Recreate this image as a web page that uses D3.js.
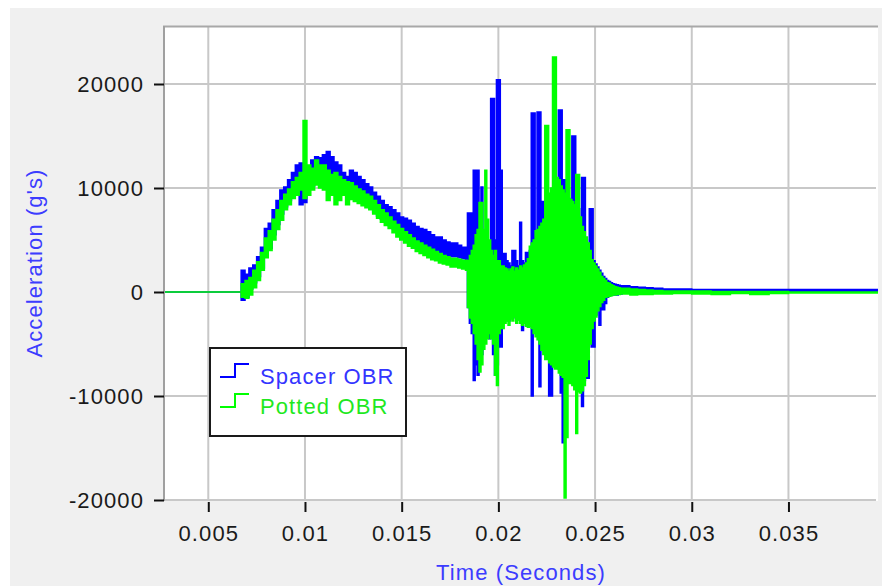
<!DOCTYPE html>
<html>
<head>
<meta charset="utf-8">
<script src="https://cdn.jsdelivr.net/npm/d3@7/dist/d3.min.js"></script>
<style>
  body { margin: 0; background: #fff; }
  svg { display: block; font-family: "Liberation Sans", Arial, sans-serif; }
</style>
</head>
<body>
<svg width="888" height="586"></svg>
<script>
// Sample times (seconds): slow part, burst, then the tail
const sampleTime = [0.00271,
  0.0067, 0.0069, 0.0071, 0.0073, 0.0075, 0.0077, 0.0079, 0.0081, 0.0083, 0.0085,
  0.0087, 0.0089, 0.0091, 0.0093, 0.0095, 0.0097, 0.0099, 0.0101, 0.0103, 0.0105,
  0.0107, 0.0109, 0.0111, 0.0113, 0.0115, 0.0117, 0.0119, 0.0121, 0.0123, 0.0125,
  0.0127, 0.0129, 0.0131, 0.0133, 0.0135, 0.0137, 0.0139, 0.0141, 0.0143, 0.0145,
  0.0147, 0.0149, 0.0151, 0.0153, 0.0155, 0.0157, 0.0159, 0.0161, 0.0163, 0.0165,
  0.0167, 0.0169, 0.0171, 0.0173, 0.0175, 0.0177, 0.0179, 0.0181, 0.0183,
  0.0184, 0.0185, 0.0186, 0.0187, 0.0188, 0.0189, 0.0190, 0.0191, 0.0192, 0.0193,
  0.0194, 0.0195, 0.0196, 0.0197, 0.0198, 0.0199, 0.0200, 0.0201, 0.0202, 0.0203,
  0.0204, 0.0205, 0.0206, 0.0207, 0.0208, 0.0209, 0.0210, 0.0211, 0.0212, 0.0213,
  0.0214, 0.0215, 0.0216, 0.0217, 0.0218, 0.0219, 0.0220, 0.0221, 0.0222, 0.0223,
  0.0224, 0.0225, 0.0226, 0.0227, 0.0228, 0.0229, 0.0230, 0.0231, 0.0232, 0.0233,
  0.0234, 0.0235, 0.0236, 0.0237, 0.0238, 0.0239, 0.0240, 0.0241, 0.0242, 0.0243,
  0.0244, 0.0245, 0.0246, 0.0247, 0.0248, 0.0249, 0.0250, 0.0251, 0.0252, 0.0253,
  0.0254, 0.0255, 0.0256, 0.0257, 0.0258, 0.0259, 0.0260, 0.0261, 0.0262, 0.0263,
  0.0264,
  0.0268, 0.0272, 0.0276, 0.0280, 0.0285, 0.0290, 0.0300, 0.0310, 0.0320, 0.0330,
  0.0340, 0.0350, 0.0360, 0.0370, 0.0380, 0.0390, 0.03963];

// Spacer OBR: upper and lower envelope (g's)
const spacerHigh = [0,
  2100, 1700, 2300, 2600, 3400, 4300, 6100, 6600, 7900, 8800,
  9800, 10100, 10800, 11500, 12200, 12400, 12000, 11900, 12700, 13000,
  12900, 13200, 13500, 13000, 12500, 12200, 11500, 11100, 11700, 11500,
  11100, 10800, 10400, 10100, 9600, 9200, 8800, 8400, 8200, 7900,
  7600, 7200, 7100, 6900, 6600, 6300, 6100, 6000, 5800, 5500,
  5300, 5300, 5000, 4800, 4700, 4700, 4500, 4300, 4300,
  7600, 7600, 7600, 11700, 11700, 11700, 6000, 10100, 5000, 4000,
  3000, 4000, 18600, 18600, 5000, 20400, 20400, 11700, 3700, 3700,
  3000, 2800, 2500, 4000, 4000, 3000, 2500, 6700, 3000, 2800,
  3800, 3800, 4000, 17200, 17200, 5500, 17300, 17300, 8700, 8700,
  6500, 8000, 9000, 9500, 10000, 9500, 10000, 17500, 17500, 10800,
  10800, 9000, 9000, 8500, 15000, 15000, 8000, 8000, 7000, 11000,
  11000, 5000, 4500, 8000, 8000, 3000, 2700, 2400, 2100, 1800,
  1500, 1300, 1100, 1000, 900, 800, 750, 700, 650, 600,
  600,
  500, 450, 400, 350, 300, 300, 250, 250, 250, 250,
  250, 250, 250, 250, 250, 250, 250];

const spacerLow = [0,
  -800, -500, 300, 900, 1500, 2300, 3500, 4200, 5500, 6500,
  7500, 8200, 8800, 9500, 9800, 8400, 8600, 10000, 10200, 10500,
  10400, 10500, 10300, 10200, 10000, 9800, 9600, 9500, 9400, 9200,
  9000, 8700, 8400, 8100, 7700, 7300, 7000, 6700, 6400, 6100,
  5800, 5500, 5200, 5000, 4800, 4600, 4400, 4200, 4000, 3900,
  3800, 3700, 3600, 3500, 3400, 3400, 3300, 3200, 3000,
  -1500, -3000, -4000, -8500, -7000, -8000, -5000, -6000, -4000, -3000,
  -3500, -4500, -3000, -6000, -8000, -7000, -5300, -5300, -3000, -2500,
  -2300, -2800, -2200, -2500, -2000, -2700, -2400, -2700, -3700, -2700,
  -3000, -3100, -3000, -10000, -3500, -3800, -4200, -9100, -5000, -5500,
  -6000, -6000, -10000, -10000, -6800, -7000, -7000, -7400, -9700, -14500,
  -9000, -8500, -8300, -8400, -8500, -9000, -9000, -9200, -9300, -11000,
  -8500, -8300, -8300, -4500, -5300, -5300, -2200, -1700, -3200, -1700,
  -1700, -1100, -500, -400, -300, -300, -300, -300, -200, -200,
  -100,
  -100, -50, 0, 50, 50, 50, 50, 50, 50, 50,
  50, 50, 50, 50, 50, 50, 50];

// Potted OBR: upper and lower envelope (g's)
const pottedHigh = [0,
  800, 1100, 1400, 2100, 2900, 3800, 5200, 5900, 7000, 7900,
  8800, 9400, 9900, 10600, 11000, 11500, 16500, 12200, 11900, 12700,
  12200, 12200, 11700, 11300, 11500, 11100, 10800, 10600, 10500, 10200,
  9900, 9700, 9400, 9200, 8800, 8400, 7900, 7600, 7200, 6800,
  6500, 6100, 5800, 5500, 5200, 4900, 4700, 4500, 4300, 4100,
  3900, 3700, 3500, 3400, 3250, 3250, 3150, 3050, 3050,
  3000, 3500, 4000, 4500, 5500, 6000, 8600, 8600, 6000, 11700,
  7000, 5000, 4000, 3500, 4000, 3000, 3000, 2500, 2500, 2300,
  2200, 2000, 2200, 2400, 2000, 2300, 2100, 2500, 2300, 2600,
  2800, 3200, 4400, 4700, 5000, 5900, 6000, 6300, 6600, 7000,
  16000, 16000, 9500, 10000, 22600, 22600, 11000, 10800, 10200, 9800,
  9500, 15600, 15600, 8900, 8700, 8400, 11300, 11300, 7200, 6300,
  5800, 5300, 4700, 4000, 3100, 2800, 2500, 2200, 1900, 1500,
  1300, 1100, 900, 830, 700, 600, 500, 450, 400, 350,
  350,
  300, 250, 200, 150, 100, 100, 100, 50, 50, 50,
  50, 0, 0, 0, 0, 0, 0];

const pottedLow = [0,
  -500, -600, -300, 400, 1100, 2100, 3300, 4000, 5000, 6000,
  6900, 7900, 8400, 9000, 9300, 9800, 9000, 9300, 9800, 10300,
  10000, 9800, 8800, 9300, 8400, 8800, 9300, 8400, 8900, 8700,
  8500, 8300, 8100, 7900, 7500, 7100, 6700, 6400, 6100, 5700,
  5300, 5000, 4700, 4400, 4200, 3900, 3700, 3500, 3300, 3100,
  3000, 2800, 2700, 2600, 2400, 2400, 2300, 2200, 2100,
  -1500, -2500, -3000, -4000, -5000, -6500, -7700, -7000, -5500, -5000,
  -4500, -4000, -4500, -5000, -8000, -9000, -4000, -3500, -3500, -3000,
  -2800, -3200, -2600, -2800, -2400, -3000, -2700, -3000, -3200, -3000,
  -3300, -3400, -3300, -3500, -4000, -4300, -4600, -5000, -5600, -6000,
  -6500, -6500, -6800, -7000, -7200, -7400, -7400, -7800, -8000, -8200,
  -19800, -14000, -8800, -8800, -9000, -9400, -13600, -9600, -9700, -9500,
  -9000, -8100, -6500, -5000, -3500, -2800, -2400, -1800, -1400, -1000,
  -800, -500, -450, -400, -350, -300, -300, -250, -250, -200,
  -200,
  -300, -250, -250, -200, -200, -150, -200, -250, -150, -250,
  -150, -100, -100, -100, -100, -100, -100];

const seriesNames = ["Spacer OBR", "Potted OBR"];
const xTicks = [0.005, 0.01, 0.015, 0.02, 0.025, 0.03, 0.035];
const yTicks = [-20000, -10000, 0, 10000, 20000];

const lineColors = ["#0000ff", "#00ff00"];
const legendTextColors = ["#3434ff", "#1fe81f"];
const titleColor = "#3c3cff";

let svg = d3.select("svg");

// Grey panel behind the chart
svg.append("rect")
    .attr("x", 10).attr("y", 8)
    .attr("width", 872).attr("height", 578)
    .attr("fill", "#f0f0f0");

let x = d3.scaleLinear().domain([0.00271, 0.03963]).range([164, 878]);
let y = d3.scaleLinear().domain([-20000, 25577]).range([500, 26]);

// Plot area
svg.append("rect")
    .attr("x", 164).attr("y", 26)
    .attr("width", 714).attr("height", 475)
    .attr("fill", "#fff");

svg.append("clipPath").attr("id", "plot-clip")
    .append("rect")
    .attr("x", 164).attr("y", 26)
    .attr("width", 714).attr("height", 475);

// Grid
svg.append("g")
    .selectAll("line")
    .data(xTicks)
    .join("line")
    .attr("x1", d => x(d)).attr("x2", d => x(d))
    .attr("y1", 26).attr("y2", 501)
    .attr("stroke", "#c8c8c8")
    .attr("stroke-width", 2);

svg.append("g")
    .selectAll("line")
    .data(yTicks)
    .join("line")
    .attr("x1", 164).attr("x2", 876)
    .attr("y1", d => y(d)).attr("y2", d => y(d))
    .attr("stroke", "#c8c8c8")
    .attr("stroke-width", 2);

// The two traces, drawn as stepped envelopes (spacer behind, potted in front)
let series = [
    { hi: spacerHigh, lo: spacerLow },
    { hi: pottedHigh, lo: pottedLow }
];

let area = d3.area()
    .curve(d3.curveStepAfter)
    .x(d => x(d.t))
    .y0(d => y(d.lo))
    .y1(d => y(d.hi));

svg.append("g")
    .attr("clip-path", "url(#plot-clip)")
    .selectAll("path")
    .data(series)
    .join("path")
    .attr("d", s => area(sampleTime.map((t, i) => ({ t: t, hi: s.hi[i], lo: s.lo[i] }))))
    .attr("fill", (s, i) => lineColors[i])
    .attr("stroke", (s, i) => lineColors[i])
    .attr("stroke-width", 1.5)
    .attr("stroke-linejoin", "miter");

// Frame on the top and left
svg.append("line")
    .attr("x1", 163).attr("x2", 878)
    .attr("y1", 26.5).attr("y2", 26.5)
    .attr("stroke", "#a8a8a8").attr("stroke-width", 2);
svg.append("line")
    .attr("x1", 164).attr("x2", 164)
    .attr("y1", 26).attr("y2", 501)
    .attr("stroke", "#a0a0a0").attr("stroke-width", 2);

// Axes
let yAxis = d3.axisLeft(y)
    .tickValues(yTicks)
    .tickSize(10)
    .tickFormat(d => String(d));

let gy = svg.append("g")
    .attr("transform", "translate(164,0)")
    .call(yAxis);
gy.select(".domain").remove();
gy.selectAll(".tick line").attr("stroke", "#111").attr("stroke-width", 2);
gy.selectAll(".tick text")
    .attr("x", -20)
    .attr("dy", "0.36em")
    .attr("fill", "#1a1a1a")
    .style("font-size", "22px")
    .style("letter-spacing", "1.1px")
    .style("font-family", "'Liberation Sans', Arial, sans-serif");

let xAxis = d3.axisBottom(x)
    .tickValues(xTicks)
    .tickSize(10)
    .tickFormat(d => String(d));

let gx = svg.append("g")
    .attr("transform", "translate(0,502)")
    .call(xAxis);
gx.select(".domain").remove();
gx.selectAll(".tick line").attr("stroke", "#111").attr("stroke-width", 2);
gx.selectAll(".tick text")
    .attr("y", 39)
    .attr("dy", 0)
    .attr("fill", "#1a1a1a")
    .style("font-size", "22px")
    .style("letter-spacing", "1.1px")
    .style("font-family", "'Liberation Sans', Arial, sans-serif");

// Axis titles
svg.append("text")
    .attr("x", 521).attr("y", 580)
    .attr("text-anchor", "middle")
    .attr("fill", titleColor)
    .style("font-size", "22px")
    .style("letter-spacing", "1.1px")
    .text("Time (Seconds)");

svg.append("text")
    .attr("transform", "translate(42,263) rotate(-90)")
    .attr("text-anchor", "middle")
    .attr("fill", titleColor)
    .style("font-size", "22px")
    .style("letter-spacing", "1.1px")
    .text("Acceleration (g's)");

// Legend
let legend = svg.append("g").attr("transform", "translate(210,348)");

legend.append("rect")
    .attr("width", 196).attr("height", 88)
    .attr("fill", "#fff")
    .attr("stroke", "#1a1a1a")
    .attr("stroke-width", 2);

let entries = legend.selectAll("g.entry")
    .data(seriesNames)
    .join("g")
    .attr("class", "entry")
    .attr("transform", (d, i) => "translate(0," + (i * 30) + ")");

entries.append("path")
    .attr("d", "M10,29H25V16H39")
    .attr("fill", "none")
    .attr("stroke", (d, i) => lineColors[i])
    .attr("stroke-width", 2);

entries.append("text")
    .attr("x", 50).attr("y", 36)
    .attr("fill", (d, i) => legendTextColors[i])
    .style("font-size", "22px")
    .style("letter-spacing", "1.1px")
    .text(d => d);
</script>
</body>
</html>
